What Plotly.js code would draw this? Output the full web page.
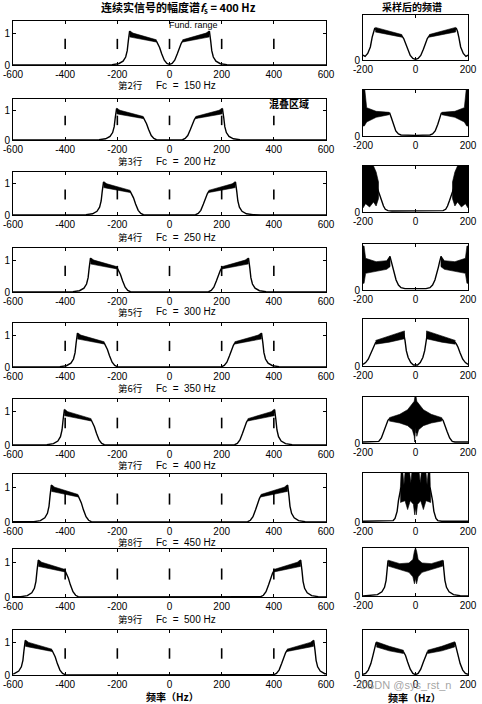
<!DOCTYPE html>
<html><head><meta charset="utf-8">
<script src="https://cdn.plot.ly/plotly-3.0.1.min.js"></script>
<style>body{margin:0;background:#fff}#chart{width:482px;height:704px}</style>
</head><body><div id="chart"></div>
<script>
// ---------------- DATA ----------------
const carrierLabels = ['150', '200', '250', '300', '350', '400', '450', '500'];
const rowLabels = ['第2行', '第3行', '第4行', '第5行', '第6行', '第7行', '第8行', '第9行'];
const leftTicks = [-600, -400, -200, 0, 200, 400, 600];
const rightTicks = [-200, 0, 200];
const markerFreqs = [-400, -200, 0, 200, 400];

// Left column: continuous spectrum outlines
const L1F = [-700,-250,-220,-195,-178,-168,-162,-158,-153,-150,-100,-50,-45,-38,-30,-20,-10,0,10,20,30,38,45,50,100,150,153,158,162,168,178,195,220,250,700];
const L1A = [0,0,0.01,0.04,0.12,0.25,0.45,0.75,1.06,0.98,0.84,0.75,0.68,0.55,0.35,0.15,0.05,0.02,0.05,0.15,0.35,0.55,0.68,0.75,0.84,0.98,1.06,0.75,0.45,0.25,0.12,0.04,0.01,0,0];
const bandAmp = [0,0,0.01,0.04,0.12,0.25,0.45,0.75,1.06,0.98,0.84,0.75,0.68,0.55,0.35,0.15,0.05,0.01,0,0,0.01,0.05,0.15,0.35,0.55,0.68,0.75,0.84,0.98,1.06,0.75,0.45,0.25,0.12,0.04,0.01,0,0];
const L2F = [-700,-300,-270,-245,-228,-218,-212,-208,-203,-200,-150,-100,-95,-88,-80,-70,-60,-50,-35,35,50,60,70,80,88,95,100,150,200,203,208,212,218,228,245,270,300,700];
const L3F = [-700,-350,-320,-295,-278,-268,-262,-258,-253,-250,-200,-150,-145,-138,-130,-120,-110,-100,-85,85,100,110,120,130,138,145,150,200,250,253,258,262,268,278,295,320,350,700];
const L4F = [-700,-400,-370,-345,-328,-318,-312,-308,-303,-300,-250,-200,-195,-188,-180,-170,-160,-150,-135,135,150,160,170,180,188,195,200,250,300,303,308,312,318,328,345,370,400,700];
const L5F = [-700,-450,-420,-395,-378,-368,-362,-358,-353,-350,-300,-250,-245,-238,-230,-220,-210,-200,-185,185,200,210,220,230,238,245,250,300,350,353,358,362,368,378,395,420,450,700];
const L6F = [-700,-500,-470,-445,-428,-418,-412,-408,-403,-400,-350,-300,-295,-288,-280,-270,-260,-250,-235,235,250,260,270,280,288,295,300,350,400,403,408,412,418,428,445,470,500,700];
const L7F = [-700,-550,-520,-495,-478,-468,-462,-458,-453,-450,-400,-350,-345,-338,-330,-320,-310,-300,-285,285,300,310,320,330,338,345,350,400,450,453,458,462,468,478,495,520,550,700];
const L8F = [-700,-600,-570,-545,-528,-518,-512,-508,-503,-500,-450,-400,-395,-388,-380,-370,-360,-350,-335,335,350,360,370,380,388,395,400,450,500,503,508,512,518,528,545,570,600,700];
const L9F = [-700,-650,-620,-595,-578,-568,-562,-558,-553,-550,-500,-450,-445,-438,-430,-420,-410,-400,-385,385,400,410,420,430,438,445,450,500,550,553,558,562,568,578,595,620,650,700];

// Left column: noisy plateau envelopes (upper then lower, two bands)
const noiseAmp = [0.79,0.9,1.0,1.07,0.88,0.86,0.79,0.72,null,0.79,0.9,1.0,1.07,0.88,0.86,0.79,0.72];
const N1F = [-50,-100,-140,-152,-152,-140,-100,-50,null,50,100,140,152,152,140,100,50];
const N2F = [-100,-150,-190,-202,-202,-190,-150,-100,null,100,150,190,202,202,190,150,100];
const N3F = [-150,-200,-240,-252,-252,-240,-200,-150,null,150,200,240,252,252,240,200,150];
const N4F = [-200,-250,-290,-302,-302,-290,-250,-200,null,200,250,290,302,302,290,250,200];
const N5F = [-250,-300,-340,-352,-352,-340,-300,-250,null,250,300,340,352,352,340,300,250];
const N6F = [-300,-350,-390,-402,-402,-390,-350,-300,null,300,350,390,402,402,390,350,300];
const N7F = [-350,-400,-440,-452,-452,-440,-400,-350,null,350,400,440,452,452,440,400,350];
const N8F = [-400,-450,-490,-502,-502,-490,-450,-400,null,400,450,490,502,502,490,450,400];
const N9F = [-450,-500,-540,-552,-552,-540,-500,-450,null,450,500,540,552,552,540,500,450];

// Right column: sampled spectrum outlines
const R1F = [-200,-192,-182,-172,-165,-160,-155,-150,-100,-52,-45,-38,-30,-20,-10,0,10,20,30,38,45,52,100,150,155,160,165,172,182,192,200];
const R1A = [0.15,0.11,0.2,0.4,0.7,0.88,0.98,0.92,0.82,0.74,0.66,0.52,0.33,0.14,0.05,0.02,0.05,0.14,0.33,0.52,0.66,0.74,0.82,0.92,0.98,0.88,0.7,0.4,0.2,0.11,0.15];
const R2F = [-200,-185,-150,-105,-98,-92,-85,-75,-65,-55,0,55,65,75,85,92,98,105,150,185,200];
const R2A = [0.75,0.6,0.62,0.68,0.68,0.55,0.35,0.15,0.06,0.03,0.02,0.03,0.06,0.15,0.35,0.55,0.68,0.68,0.62,0.6,0.75];
const R3F = [-200,-170,-145,-138,-130,-122,-115,-105,-90,0,90,105,115,122,130,138,145,170,200];
const R3A = [0.7,0.7,0.7,0.55,0.35,0.18,0.08,0.04,0.03,0.03,0.03,0.04,0.08,0.18,0.35,0.55,0.7,0.7,0.7];
const R4F = [-200,-190,-150,-110,-97,-92,-87,-80,-74,-65,-55,-40,0,40,55,65,74,80,87,92,97,110,150,190,200];
const R4A = [0.7,0.75,0.72,0.78,1.0,0.85,0.68,0.45,0.3,0.15,0.07,0.04,0.03,0.04,0.07,0.15,0.3,0.45,0.68,0.85,1.0,0.78,0.72,0.75,0.7];
const R5F = [-200,-190,-180,-170,-162,-156,-152,-100,-45,-40,-35,-28,-18,-8,0,8,18,28,35,40,45,100,152,156,162,170,180,190,200];
const R5A = [0.05,0.1,0.2,0.38,0.55,0.64,0.69,0.79,0.95,0.75,0.45,0.25,0.1,0.03,0.02,0.03,0.1,0.25,0.45,0.75,0.95,0.79,0.69,0.64,0.55,0.38,0.2,0.1,0.05];
const R6F = [-200,-150,-140,-130,-120,-112,-105,-100,-60,-20,-4,0,4,20,60,100,105,112,120,130,140,150,200];
const R6A = [0.03,0.03,0.05,0.15,0.35,0.55,0.68,0.72,0.75,0.8,0.3,0.9,0.3,0.8,0.75,0.72,0.68,0.55,0.35,0.15,0.05,0.03,0.03];
const R7F = [-200,-100,-85,-78,-70,-65,-60,-56,56,60,65,70,78,85,100,200];
const R7A = [0.02,0.02,0.04,0.1,0.3,0.6,0.8,0.95,0.95,0.8,0.6,0.3,0.1,0.04,0.02,0.02];
const R8F = [-200,-170,-145,-128,-118,-112,-108,-105,-60,-20,0,20,60,105,108,112,118,128,145,170,200];
const R8A = [0.0,0.01,0.04,0.12,0.25,0.45,0.75,1.0,0.85,0.78,0.85,0.78,0.85,1.0,0.75,0.45,0.25,0.12,0.04,0.01,0.0];
const R9F = [-200,-190,-180,-170,-162,-155,-150,-145,-100,-45,-38,-30,-20,-10,0,10,20,30,38,45,100,145,150,155,162,170,180,190,200];
const R9A = [0.02,0.05,0.15,0.35,0.6,0.85,1.0,0.92,0.8,0.7,0.6,0.4,0.18,0.05,0.01,0.05,0.18,0.4,0.6,0.7,0.8,0.92,1.0,0.85,0.6,0.35,0.15,0.05,0.02];

// Right column: noisy / aliased regions (envelope polygons)
const RN1F = [-153,-100,-52,-52,-100,-153,null,52,100,153,153,100,52];
const RN1A = [1.0,0.88,0.78,0.7,0.77,0.86,null,0.78,0.88,1.0,0.86,0.77,0.7];
const RN2F = [-200,-193,-186,-150,-100,-100,-150,-186,-195,-200,null,200,193,186,150,100,100,150,186,195,200];
const RN2A = [1.38,1.38,0.85,0.74,0.71,0.64,0.56,0.42,0.3,0.3,null,1.38,1.38,0.85,0.74,0.71,0.64,0.56,0.42,0.3,0.3];
const RN3F = [-200,-160,-150,-141,-141,-150,-160,-175,-190,-200,null,200,160,150,141,141,150,160,175,190,200];
const RN3A = [1.38,1.38,1.2,0.9,0.4,0.18,0.3,0.15,0.25,0.12,null,1.38,1.38,1.2,0.9,0.4,0.18,0.3,0.15,0.25,0.12];
const RN4F = [-200,-196,-190,-150,-110,-97,-97,-110,-150,-190,-196,-200,null,200,196,190,150,110,97,97,110,150,190,196,200];
const RN4A = [1.32,1.32,0.95,0.85,0.88,1.02,0.7,0.62,0.56,0.5,0.2,0.2,null,1.32,1.32,0.95,0.85,0.88,1.02,0.7,0.62,0.56,0.5,0.2,0.2];
const RN5F = [-152,-100,-42,-42,-100,-152,null,152,100,42,42,100,152];
const RN5A = [0.75,0.88,1.03,0.8,0.7,0.64,null,0.75,0.88,1.03,0.8,0.7,0.64];
const RN6F = [-100,-60,-30,-15,-5,-2,2,5,15,30,60,100,100,60,30,12,5,2,-1,-3,-5,-12,-30,-60,-100];
const RN6A = [0.76,0.86,1.0,1.15,1.25,1.4,1.4,1.25,1.15,1.0,0.86,0.76,0.66,0.6,0.52,0.4,0.2,0.5,0.3,0.03,0.2,0.4,0.52,0.6,0.66];
const RN7F = [-58,-55,-48,-44,-40,-22,-18,-14,14,18,22,40,44,48,55,58,58,40,30,20,8,3,0,-3,-8,-20,-30,-40,-58];
const RN7A = [0.9,1.38,1.38,1.05,1.38,1.38,1.1,1.38,1.38,1.1,1.38,1.38,1.05,1.38,1.38,0.9,0.55,0.6,0.35,0.6,0.5,0.2,0.4,0.2,0.5,0.6,0.35,0.6,0.55];
const RN8F = [-104,-60,-25,-10,-4,0,4,10,25,60,104,104,60,25,10,4,0,-4,-10,-25,-60,-104];
const RN8A = [1.03,0.93,0.95,1.05,1.3,1.38,1.3,1.05,0.95,0.93,1.03,0.86,0.76,0.68,0.55,0.35,0.5,0.35,0.55,0.68,0.76,0.86];
const RN9F = [-149,-100,-46,-46,-100,-149,null,46,100,149,149,100,46];
const RN9A = [1.02,0.88,0.76,0.66,0.74,0.86,null,0.76,0.88,1.02,0.86,0.74,0.66];

// ---------------- LAYOUT / DRAWING ----------------
const W = 482, H = 704;
const px = v => v / W, py = v => 1 - v / H;
const leftBox = [13, 326], rightBox = [363, 468];
const leftRows = [[21,65],[99,140],[172,215],[248,292],[323,367],[399,445],[474,522],[549,597],[630,675]];
const rightRows = [[15,60],[90,136],[166,212],[244,290],[319,366],[397,443],[473,522],[548,596],[630,675]];

const leftCurves = [[L1F,L1A],[L2F,bandAmp],[L3F,bandAmp],[L4F,bandAmp],[L5F,bandAmp],[L6F,bandAmp],[L7F,bandAmp],[L8F,bandAmp],[L9F,bandAmp]];
const leftNoise = [N1F,N2F,N3F,N4F,N5F,N6F,N7F,N8F,N9F];
const rightCurves = [[R1F,R1A],[R2F,R2A],[R3F,R3A],[R4F,R4A],[R5F,R5A],[R6F,R6A],[R7F,R7A],[R8F,R8A],[R9F,R9A]];
const rightNoise = [[RN1F,RN1A],[RN2F,RN2A],[RN3F,RN3A],[RN4F,RN4A],[RN5F,RN5A],[RN6F,RN6A],[RN7F,RN7A],[RN8F,RN8A],[RN9F,RN9A]];

const latin = 'Liberation Sans, Arial, sans-serif';
const cjk = 'Noto Sans CJK SC, sans-serif';
const tickFont = {family: latin, size: 10, color: '#000'};
const traces = [];
const layout = {
  width: W, height: H, margin: {l:0, r:0, t:0, b:0},
  paper_bgcolor: '#fff', plot_bgcolor: '#fff', showlegend: false,
  annotations: []
};
function axisBase() {
  return {showgrid:false, zeroline:false, showline:true, linecolor:'#000', linewidth:1,
          mirror:'ticks', ticks:'inside', ticklen:3, tickcolor:'#000', tickwidth:1,
          tickfont: tickFont, fixedrange:true};
}
let n = 0;
function addPanel(box, rowPx, xr, xt, yt, curve, noise, dashes) {
  n++;
  const xa = n === 1 ? 'xaxis' : 'xaxis' + n;
  const ya = n === 1 ? 'yaxis' : 'yaxis' + n;
  const xr_ = n === 1 ? 'x' : 'x' + n;
  const yr_ = n === 1 ? 'y' : 'y' + n;
  layout[xa] = Object.assign(axisBase(), {domain:[px(box[0]), px(box[1])], anchor: yr_, range: xr,
      tickmode:'array', tickvals: xt, ticktext: xt.map(String)});
  layout[ya] = Object.assign(axisBase(), {domain:[py(rowPx[1]), py(rowPx[0])], anchor: xr_, range:[0,1.38],
      tickmode:'array', tickvals: yt, ticktext: yt.map(String)});
  traces.push({type:'scatter', mode:'lines', x: noise[0], y: noise[1], xaxis: xr_, yaxis: yr_,
      fill:'toself', fillcolor:'#000', line:{color:'#000', width:0.6}, hoverinfo:'skip'});
  traces.push({type:'scatter', mode:'lines', x: curve[0], y: curve[1], xaxis: xr_, yaxis: yr_,
      line:{color:'#000', width:1.4}, hoverinfo:'skip'});
  if (dashes) {
    const dx = [], dy = [];
    markerFreqs.forEach(f => { dx.push(f, f, null); dy.push(0.5, 0.82, null); });
    traces.push({type:'scatter', mode:'lines', x: dx, y: dy, xaxis: xr_, yaxis: yr_,
        line:{color:'#000', width:1.6}, hoverinfo:'skip'});
  }
}
for (let r = 0; r < 9; r++) {
  addPanel(leftBox, leftRows[r], [-600,600], leftTicks, [0,1], leftCurves[r], [leftNoise[r], noiseAmp], true);
  addPanel(rightBox, rightRows[r], [-200,200], rightTicks, [0], rightCurves[r], rightNoise[r], false);
}

function ann(x, y, text, size, family, color) {
  layout.annotations.push({xref:'paper', yref:'paper', x: px(x), y: py(y), text: text, showarrow:false,
    xanchor:'center', yanchor:'middle', font:{family: family || cjk, size: size, color: color || '#000'}});
}
ann(178, 8, '<b>连续实信号的幅度谱<i>f</i><sub>s</sub> = 400 Hz</b>', 11);
ann(412, 6, '<b>采样后的频谱</b>', 10);
ann(193, 25, 'Fund. range', 9, latin);
ann(289, 104, '<b>混叠区域</b>', 10);
const subY = [85, 161, 237, 312, 388, 465, 542, 619];
for (let k = 0; k < 8; k++) {
  ann(130, subY[k], rowLabels[k], 9.5);
  ann(186, subY[k], 'Fc  =  ' + carrierLabels[k] + ' Hz', 10, latin);
}
ann(172, 696, '<b>频率（Hz）</b>', 10);
ann(414, 697, '<b>频率（Hz）</b>', 10);
ann(405, 685, 'CSDN @sys_rst_n', 11, latin, 'rgba(140,140,140,0.8)');

Plotly.newPlot('chart', traces, layout, {staticPlot:true, displayModeBar:false});
</script></body></html>
